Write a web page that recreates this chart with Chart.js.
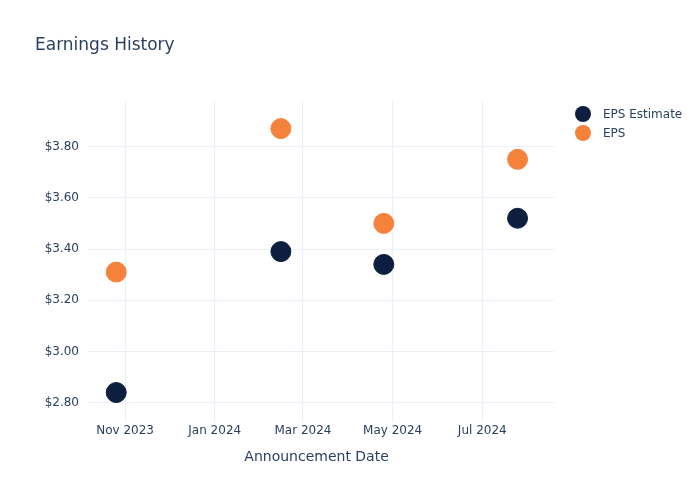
<!DOCTYPE html>
<html>
<head>
<meta charset="utf-8">
<script src="https://cdn.jsdelivr.net/npm/chart.js@4"></script>
<style>
  html, body { margin: 0; padding: 0; background: #fff; }
  #wrap { width: 700px; height: 500px; }
</style>
</head>
<body>
<div id="wrap"><canvas id="EarningsHistory"></canvas></div>
<script>
// announcement dates and values
var announcementDates = ["2023-10-26", "2024-02-15", "2024-04-25", "2024-07-25"];
var epsEstimate = [2.84, 3.39, 3.34, 3.52];
var epsActual = [3.31, 3.87, 3.50, 3.75];

var xTickDates = ["2023-11-01", "2024-01-01", "2024-03-01", "2024-05-01", "2024-07-01"];
var xTickLabels = ["Nov 2023", "Jan 2024", "Mar 2024", "May 2024", "Jul 2024"];
var yTicks = [2.8, 3.0, 3.2, 3.4, 3.6, 3.8];

var corTexto = "#2a3f5f";
var corGrade = "#ebf0f8";

function toMs(d) { return Date.parse(d + "T00:00:00Z"); }

function pontos(valores) {
    return announcementDates.map(function (d, i) {
        return { x: toMs(d), y: valores[i] };
    });
}

// legend drawn at the right, plotly style
var legendaDireita = {
    id: 'legendaDireita',
    afterDraw: function (chart) {
        var ctx = chart.ctx;
        ctx.save();
        ctx.font = "12px 'DejaVu Sans'";
        ctx.textBaseline = "middle";
        chart.data.datasets.forEach(function (ds, i) {
            var y = 114 + i * 19;
            ctx.beginPath();
            ctx.arc(583, y, 8, 0, Math.PI * 2);
            ctx.fillStyle = ds.backgroundColor;
            ctx.fill();
            ctx.fillStyle = corTexto;
            ctx.fillText(ds.label, 603, y + 1);
        });
        ctx.restore();
    }
};

Chart.defaults.font.family = "'DejaVu Sans', sans-serif";
Chart.defaults.color = corTexto;

var contexto = document.getElementById('EarningsHistory').getContext('2d');
var grafico = new Chart(contexto, {
    type: 'scatter',
    data: {
        datasets: [{
            label: "EPS Estimate",
            data: pontos(epsEstimate),
            backgroundColor: "#0c1f3f",
            borderColor: "#0c1f3f",
            pointRadius: 10,
            pointHoverRadius: 10
        }, {
            label: "EPS",
            data: pontos(epsActual),
            backgroundColor: "#f5823a",
            borderColor: "#f5823a",
            pointRadius: 10,
            pointHoverRadius: 10
        }]
    },
    options: {
        responsive: true,
        maintainAspectRatio: false,
        animation: false,
        layout: { padding: { left: 35, right: 146, top: 0, bottom: 0 } },
        plugins: {
            legend: { display: false },
            tooltip: { enabled: false },
            title: {
                display: true,
                text: "Earnings History",
                align: 'start',
                color: corTexto,
                font: { size: 17, weight: 'normal' },
                padding: { top: 35, bottom: 45 }
            }
        },
        scales: {
            x: {
                type: 'linear',
                min: Date.parse("2023-10-06T19:00:00Z"),
                max: Date.parse("2024-08-18T19:00:00Z"),
                afterBuildTicks: function (scale) {
                    scale.ticks = xTickDates.map(function (d) { return { value: toMs(d) }; });
                },
                afterFit: function (scale) { scale.height = 78; },
                ticks: {
                    autoSkip: false,
                    maxRotation: 0,
                    padding: 2,
                    color: corTexto,
                    font: { size: 12 },
                    callback: function (valor) {
                        var i = xTickDates.map(toMs).indexOf(valor);
                        return i >= 0 ? xTickLabels[i] : "";
                    }
                },
                grid: { color: corGrade, drawTicks: false },
                border: { display: false },
                title: {
                    display: true,
                    text: "Announcement Date  ",
                    color: corTexto,
                    font: { size: 14 },
                    padding: { top: 0, bottom: 34 }
                }
            },
            y: {
                min: 2.725,
                max: 3.98,
                afterBuildTicks: function (scale) {
                    scale.ticks = yTicks.map(function (v) { return { value: v }; });
                },
                afterFit: function (scale) { scale.width = 53; },
                ticks: {
                    padding: 9,
                    color: corTexto,
                    font: { size: 12 },
                    callback: function (valor) { return "$" + valor.toFixed(2); }
                },
                grid: { color: corGrade, drawTicks: false },
                border: { display: false }
            }
        }
    },
    plugins: [legendaDireita]
});
</script>
</body>
</html>
